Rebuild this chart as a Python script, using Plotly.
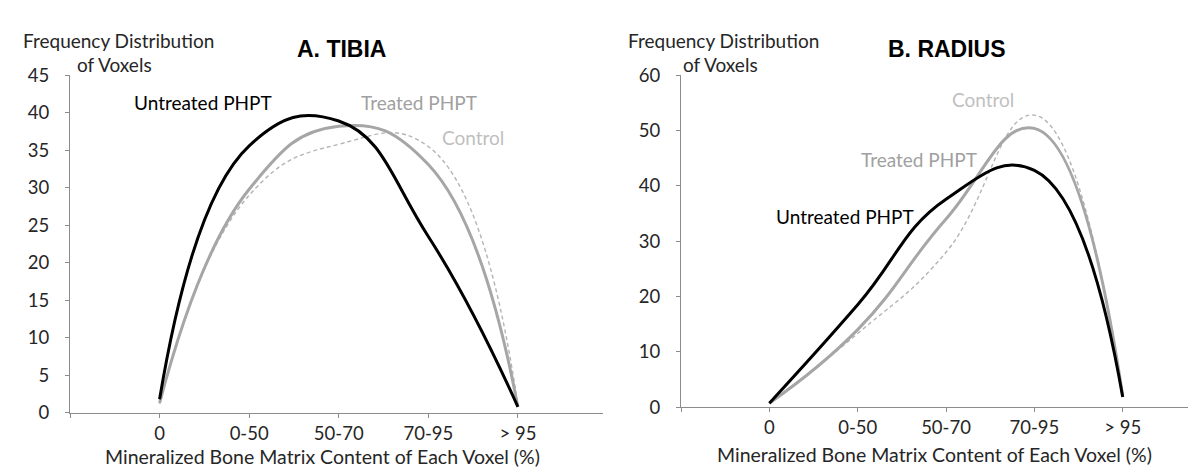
import plotly.graph_objects as go

# ---- data ----
categories = ["0", "0-50", "50-70", "70-95", "> 95"]

tibia_untreated = [1.8, 35.6, 38.9, 23.5, 0.8]
tibia_treated = [1.3, 29.8, 38.2, 33.1, 0.8]
tibia_control = [1.2, 29.0, 35.8, 35.5, 1.0]

radius_untreated = [0.7, 18.5, 37.6, 42.8, 1.8]
radius_treated = [0.7, 14.0, 34.0, 50.4, 2.0]
radius_control = [0.7, 13.3, 28.0, 52.8, 2.0]

W, H = 1196, 471

def px(x):
    return x / W

def py(y):
    return 1 - y / H

xpos = list(range(1, len(categories) + 1))
tickvals = [0] + xpos
ticktext = [""] + categories

FONT = "Lato"
FS = 19
TICKFS = 18.5
TXT = "#262626"
AX = "#8c8c8c"
BLACK = "#000000"
GRAY = "#a6a6a6"
LIGHT = "#b4b4b4"

fig = go.Figure()

def add_series(y, xa, ya, color, width, dash):
    fig.add_trace(go.Scatter(
        x=xpos, y=y, mode="lines", xaxis=xa, yaxis=ya,
        line=dict(color=color, width=width, dash=dash, shape="spline", smoothing=1.3),
        showlegend=False, hoverinfo="skip"))

# order: control underneath, then treated, then untreated
add_series(tibia_control, "x", "y", LIGHT, 1.4, "4px,3px")
add_series(tibia_treated, "x", "y", GRAY, 3, "solid")
add_series(tibia_untreated, "x", "y", BLACK, 3, "solid")
add_series(radius_control, "x2", "y2", LIGHT, 1.4, "4px,3px")
add_series(radius_treated, "x2", "y2", GRAY, 3, "solid")
add_series(radius_untreated, "x2", "y2", BLACK, 3, "solid")

xcommon = dict(tickmode="array", tickvals=tickvals, ticktext=ticktext,
               showline=True, linecolor=AX, linewidth=1.3, ticks="outside",
               tickcolor=AX, ticklen=4, tickwidth=1.3, showgrid=False, zeroline=False,
               tickfont=dict(family=FONT, size=TICKFS, color=TXT), fixedrange=True)
ycommon = dict(showline=True, linecolor=AX, linewidth=1.3, ticks="outside",
               tickcolor=AX, ticklen=4, tickwidth=1.3, showgrid=False, zeroline=False,
               ticklabelstandoff=12,
               tickfont=dict(family=FONT, size=TICKFS, color=TXT), fixedrange=True)

fig.update_layout(
    width=W, height=H,
    margin=dict(l=0, r=0, t=0, b=0),
    paper_bgcolor="white", plot_bgcolor="white",
    xaxis=dict(domain=[px(62), px(595)], range=[0, 5.95], anchor="y", **xcommon),
    yaxis=dict(domain=[py(412), py(58)], range=[0, 45], dtick=5, anchor="x", **ycommon),
    xaxis2=dict(domain=[px(673), px(1196)], range=[0, 5.92], anchor="y2", **xcommon),
    yaxis2=dict(domain=[py(406), py(58)], range=[0, 60], dtick=10, anchor="x2", **ycommon),
)

def ann(text, x, y, size=FS, color=TXT, family=FONT, bold=False):
    fig.add_annotation(text=f"<b>{text}</b>" if bold else text,
                       x=px(x), y=py(y), xref="paper", yref="paper",
                       xanchor="center", yanchor="middle", showarrow=False,
                       font=dict(family=family, size=size, color=color))

# left panel texts
ann("Frequency Distribution", 110, 21)
ann("of Voxels", 106, 47)
ann("A. TIBIA", 333, 30, size=23, color="#000000", family="Liberation Sans", bold=True)
ann("Untreated PHPT", 195, 87, color="#000000")
ann("Treated PHPT", 411, 87, color="#a0a0a0")
ann("Control", 465, 123, color="#bfbfbf")
ann("Mineralized Bone Matrix Content of Each Voxel (%)", 314, 458, size=19.5)

# right panel texts
ann("Frequency Distribution", 715, 21)
ann("of Voxels", 712, 47)
ann("B. RADIUS", 939, 30, size=23, color="#000000", family="Liberation Sans", bold=True)
ann("Control", 975, 83, color="#bfbfbf")
ann("Treated PHPT", 911, 146, color="#a0a0a0")
ann("Untreated PHPT", 837, 206, color="#000000")
ann("Mineralized Bone Matrix Content of Each Voxel (%)", 926, 456, size=19.5)

fig.write_html("out.html")
